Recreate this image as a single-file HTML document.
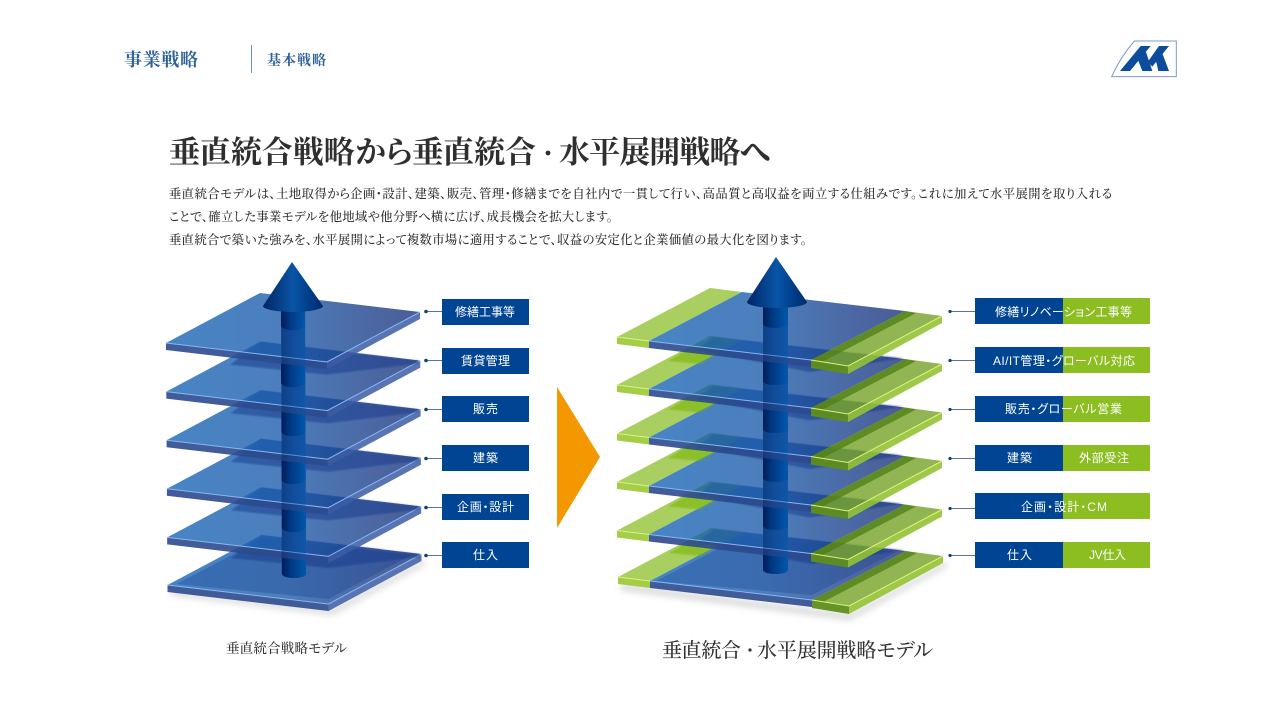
<!DOCTYPE html>
<html lang="ja">
<head>
<meta charset="utf-8">
<title>垂直統合戦略から垂直統合・水平展開戦略へ</title>
<style>
html,body{margin:0;padding:0;background:#fff;width:1280px;height:720px;overflow:hidden}
svg{display:block}
.s{font-family:"Liberation Serif","Noto Serif CJK SC",serif;font-feature-settings:"palt"}
.g{font-family:"Liberation Sans","Noto Sans CJK JP",sans-serif;font-size:12px;fill:#fff;font-feature-settings:"palt"}
.b{font-size:12.3px;fill:#2e2e2e;font-weight:500}
.h{fill:#2d6199;font-weight:700}
</style>
</head>
<body>
<svg width="1280" height="720" viewBox="0 0 1280 720" xmlns="http://www.w3.org/2000/svg">
<defs>
<linearGradient id="lt" gradientUnits="userSpaceOnUse" x1="166" y1="0" x2="421" y2="0">
<stop offset="0" stop-color="#1a66b6"/><stop offset=".45" stop-color="#1f5eac"/><stop offset="1" stop-color="#1e337b"/>
</linearGradient>
<linearGradient id="rt" gradientUnits="userSpaceOnUse" x1="649" y1="0" x2="905" y2="0">
<stop offset="0" stop-color="#1a66b6"/><stop offset=".45" stop-color="#1f5eac"/><stop offset="1" stop-color="#1e337b"/>
</linearGradient>
<linearGradient id="pil" x1="0" y1="0" x2="1" y2="0">
<stop offset="0" stop-color="#001d58"/><stop offset=".4" stop-color="#003a86"/><stop offset="1" stop-color="#0058ab"/>
</linearGradient>
<linearGradient id="cone" x1="0" y1="0" x2="1" y2="0">
<stop offset="0" stop-color="#002565"/><stop offset=".5" stop-color="#0a55a6"/><stop offset=".75" stop-color="#003f8c"/><stop offset="1" stop-color="#002a70"/>
</linearGradient>
<filter id="bl" x="-20%" y="-50%" width="140%" height="200%"><feGaussianBlur stdDeviation="3.5"/></filter>
<filter id="b1" x="-5%" y="-10%" width="110%" height="120%"><feGaussianBlur stdDeviation=".8"/></filter>

<g id="lp">
<polygon points="166,343 327,362 327,369 166,350" fill="#2c4a8e" fill-opacity=".9"/>
<polygon points="327,362 420,312 420,319 327,369" fill="#3c5ca6" fill-opacity=".85"/>
<polygon points="166,343 260,293 420,312 327,362" fill="url(#lt)" fill-opacity=".8"/>
<polyline points="166,343 327,362 420,312" fill="none" stroke="#86b8f2" stroke-width="1"/>
</g>
<polygon id="lsh" points="260,293 418,312 418,315 327,326 230,316" fill="#123a8c" fill-opacity=".5" filter="url(#b1)"/>

<g id="rp">
<polygon points="617,337 649,341 649,348 617,344" fill="#9fca3e" fill-opacity=".95"/>
<polygon points="649,341 811,360 811,367 649,348" fill="#2c4a8e" fill-opacity=".9"/>
<polygon points="811,360 848,366 848,374 811,368" fill="#5f8e1e" fill-opacity=".95"/>
<polygon points="848,366 942,316 942,323 848,374" fill="#94c235" fill-opacity=".9"/>
<polygon points="617,337 710,288 742,292 649,341" fill="#92c337" fill-opacity=".8"/>
<polygon points="649,341 742,292 905,311 811,360" fill="url(#rt)" fill-opacity=".8"/>
<polygon points="811,360 905,311 942,316 848,366" fill="#79a52c" fill-opacity=".82"/>
<polygon points="811,360 905,311 916,313 822,362" fill="#4d7d14" fill-opacity=".75"/>
<polyline points="617,337 649,341" fill="none" stroke="#dff27a" stroke-width="1"/>
<polyline points="649,341 811,360" fill="none" stroke="#86b8f2" stroke-width="1"/>
<polyline points="811,360 848,366 942,316" fill="none" stroke="#dff27a" stroke-width="1"/>
</g>
<g id="rsh">
<polygon points="710,288 742,292 700,316 668,313" fill="#74b400" fill-opacity=".55" filter="url(#b1)"/>
<polygon points="713,289 903,310 860,317 810,324 697,302" fill="#123a8c" fill-opacity=".5" filter="url(#b1)"/>
</g>

<path id="ls" d="M281,-62 V-4 A12,4 0 0 0 305,-4 V-62 Z" fill="url(#pil)"/>
<path id="rs" d="M763,-62 V-4 A12.5,4 0 0 0 788,-4 V-62 Z" fill="url(#pil)"/>
</defs>

<rect width="1280" height="720" fill="#fff"/>

<!-- header -->
<text class="s h" x="124" y="66" font-size="18" textLength="74" lengthAdjust="spacing">事業戦略</text>
<rect x="251" y="45" width="1" height="28" fill="#6a94bd"/>
<text class="s h" x="267" y="65" font-size="14" textLength="59" lengthAdjust="spacing">基本戦略</text>

<!-- logo -->
<g transform="translate(1105,36) scale(.3333)">
<path d="M20,122 Q45,65 88,15 H214 V122 Z" fill="#fff" stroke="#7a9cc8" stroke-width="3"/>
<g fill="#0b4c9c">
<polygon points="45,105 75,105 137,30 107,30"/>
<polygon points="95,62 112,105 142,105 122,45"/>
<polygon points="128,78 142,92 192,30 162,30"/>
<polygon points="150,62 160,105 192,105 172,52"/>
</g>
</g>

<!-- title and body -->
<text class="s" x="169" y="163" font-size="31" font-weight="700" fill="#2f2f2f" textLength="367" lengthAdjust="spacing">垂直統合戦略から垂直統合</text>
<circle cx="548" cy="153" r="2.4" fill="#2f2f2f"/>
<text class="s" x="559" y="163" font-size="31" font-weight="700" fill="#2f2f2f" textLength="212" lengthAdjust="spacing">水平展開戦略へ</text>
<text class="s b" x="169" y="198" textLength="943" lengthAdjust="spacing">垂直統合モデルは、土地取得から企画・設計、建築、販売、管理・修繕までを自社内で一貫して行い、高品質と高収益を両立する仕組みです。これに加えて水平展開を取り入れる</text>
<text class="s b" x="169" y="221" textLength="444" lengthAdjust="spacing">ことで、確立した事業モデルを他地域や他分野へ横に広げ、成長機会を拡大します。</text>
<text class="s b" x="169" y="244" textLength="638" lengthAdjust="spacing">垂直統合で築いた強みを、水平展開によって複数市場に適用することで、収益の安定化と企業価値の最大化を図ります。</text>

<!-- left stack -->
<polygon points="172,590 330,610 424,560 426,564 332,615 170,595" fill="#888" opacity=".35" filter="url(#bl)"/>
<use href="#lp" transform="translate(1.5,242)"/>
<polygon points="175,342 261,297 410,313 327,357" transform="translate(1.5,242)" fill="#123a8c" fill-opacity=".3"/>
<use href="#lsh" transform="translate(1.5,242)"/>
<use href="#ls" transform="translate(1,578)"/>
<use href="#lp" transform="translate(1.2,194.4)"/>
<use href="#lsh" transform="translate(1.2,194.4)"/>
<use href="#ls" transform="translate(.8,532)"/>
<use href="#lp" transform="translate(.9,145.8)"/>
<use href="#lsh" transform="translate(.9,145.8)"/>
<use href="#ls" transform="translate(.6,484)"/>
<use href="#lp" transform="translate(.6,97.2)"/>
<use href="#lsh" transform="translate(.6,97.2)"/>
<use href="#ls" transform="translate(.4,436)"/>
<use href="#lp" transform="translate(.3,48.6)"/>
<use href="#lsh" transform="translate(.3,48.6)"/>
<use href="#ls" transform="translate(0,387)"/>
<use href="#lp"/>
<path d="M281,300 V326 A12,4 0 0 0 305,326 V300 Z" fill="url(#pil)"/>
<rect x="281.5" y="312" width="24" height="262" fill="url(#pil)" opacity=".35"/>
<path d="M292,262 L263,306 A30,6 0 0 0 323,306 Z" fill="url(#cone)"/>

<!-- left labels -->
<g fill="#5c7590">
<rect x="426" y="311" width="16" height="1"/><rect x="426" y="360" width="16" height="1"/><rect x="426" y="409" width="16" height="1"/><rect x="426" y="458" width="16" height="1"/><rect x="426" y="507" width="16" height="1"/><rect x="426" y="555" width="16" height="1"/>
</g>
<g fill="#123f7a">
<circle cx="426" cy="311.5" r="1.8"/><circle cx="426" cy="360.5" r="1.8"/><circle cx="426" cy="409.5" r="1.8"/><circle cx="426" cy="458.5" r="1.8"/><circle cx="426" cy="507.5" r="1.8"/><circle cx="426" cy="555.5" r="1.8"/>
</g>
<g fill="#004494">
<rect x="442" y="299" width="87" height="26"/><rect x="442" y="348" width="87" height="26"/><rect x="442" y="396" width="87" height="26"/><rect x="442" y="445" width="87" height="26"/><rect x="442" y="494" width="87" height="26"/><rect x="442" y="542" width="87" height="26"/>
</g>
<text class="g" x="455" y="316" textLength="60" lengthAdjust="spacing">修繕工事等</text>
<text class="g" x="461" y="365" textLength="49" lengthAdjust="spacing">賃貸管理</text>
<text class="g" x="473" y="413" textLength="25" lengthAdjust="spacing">販売</text>
<text class="g" x="473" y="462" textLength="25" lengthAdjust="spacing">建築</text>
<text class="g" x="457" y="511" textLength="57" lengthAdjust="spacing">企画・設計</text>
<text class="g" x="473" y="559" textLength="25" lengthAdjust="spacing">仕入</text>

<!-- orange arrow -->
<polygon points="557,387 600,457 557,528" fill="#f39800"/>

<!-- right stack -->
<polygon points="622,584 850,614 946,562 948,566 850,620 620,590" fill="#888" opacity=".35" filter="url(#bl)"/>
<use href="#rp" transform="translate(1,240)"/>
<polygon points="655,341 742,296 895,312 811,355" transform="translate(1,240)" fill="#123a8c" fill-opacity=".28"/>
<use href="#rsh" transform="translate(1,240)"/>
<use href="#rs" transform="translate(0,574)"/>
<use href="#rp" transform="translate(0,193.5)"/>
<use href="#rsh" transform="translate(0,193.5)"/>
<use href="#rs" transform="translate(0,530)"/>
<use href="#rp" transform="translate(0,145)"/>
<use href="#rsh" transform="translate(0,145)"/>
<use href="#rs" transform="translate(0,482)"/>
<use href="#rp" transform="translate(0,96.5)"/>
<use href="#rsh" transform="translate(0,96.5)"/>
<use href="#rs" transform="translate(0,433)"/>
<use href="#rp" transform="translate(0,48)"/>
<use href="#rsh" transform="translate(0,48)"/>
<use href="#rs" transform="translate(0,385)"/>
<use href="#rp"/>
<path d="M763,296 V324 A12.5,4 0 0 0 788,324 V296 Z" fill="url(#pil)"/>
<rect x="763" y="308" width="25" height="262" fill="url(#pil)" opacity=".35"/>
<path d="M776,257 L747,302 A30,6 0 0 0 807,302 Z" fill="url(#cone)"/>

<!-- right labels -->
<g fill="#5c7590">
<rect x="950" y="311" width="25" height="1"/><rect x="950" y="360" width="25" height="1"/><rect x="950" y="409" width="25" height="1"/><rect x="950" y="458" width="25" height="1"/><rect x="950" y="508" width="25" height="1"/><rect x="950" y="555" width="25" height="1"/>
</g>
<g fill="#123f7a">
<circle cx="950" cy="311.5" r="1.6"/><circle cx="950" cy="360.5" r="1.6"/><circle cx="950" cy="409.5" r="1.6"/><circle cx="950" cy="458.5" r="1.6"/><circle cx="950" cy="508.5" r="1.6"/><circle cx="950" cy="555.5" r="1.6"/>
</g>
<g fill="#004494">
<rect x="975" y="298" width="88" height="26"/><rect x="975" y="347" width="88" height="26"/><rect x="975" y="396" width="88" height="26"/><rect x="975" y="445" width="88" height="26"/><rect x="975" y="493" width="88" height="26"/><rect x="975" y="542" width="88" height="26"/>
</g>
<g fill="#8cbe22">
<rect x="1063" y="298" width="87" height="26"/><rect x="1063" y="347" width="87" height="26"/><rect x="1063" y="396" width="87" height="26"/><rect x="1063" y="445" width="87" height="26"/><rect x="1063" y="493" width="87" height="26"/><rect x="1063" y="542" width="87" height="26"/>
</g>
<text class="g" x="995" y="316" textLength="137" lengthAdjust="spacing">修繕リノベーション工事等</text>
<text class="g" x="993" y="365" textLength="142" lengthAdjust="spacing">AI/IT管理・グローバル対応</text>
<text class="g" x="1005" y="413" textLength="117" lengthAdjust="spacing">販売・グローバル営業</text>
<text class="g" x="1007" y="462" textLength="25" lengthAdjust="spacing">建築</text>
<text class="g" x="1079" y="462" textLength="50" lengthAdjust="spacing">外部受注</text>
<text class="g" x="1021" y="511" textLength="86" lengthAdjust="spacing">企画・設計・CM</text>
<text class="g" x="1007" y="559" textLength="25" lengthAdjust="spacing">仕入</text>
<text class="g" x="1089" y="559" textLength="37" lengthAdjust="spacing">JV仕入</text>

<!-- captions -->
<text class="s" x="226" y="653" font-size="13.5" font-weight="500" fill="#333" textLength="121" lengthAdjust="spacing">垂直統合戦略モデル</text>
<text class="s" x="662" y="657" font-size="20" font-weight="500" fill="#333" textLength="79" lengthAdjust="spacing">垂直統合</text>
<circle cx="750" cy="650" r="1.6" fill="#333"/>
<text class="s" x="757" y="657" font-size="20" font-weight="500" fill="#333" textLength="176" lengthAdjust="spacing">水平展開戦略モデル</text>
</svg>
</body>
</html>
